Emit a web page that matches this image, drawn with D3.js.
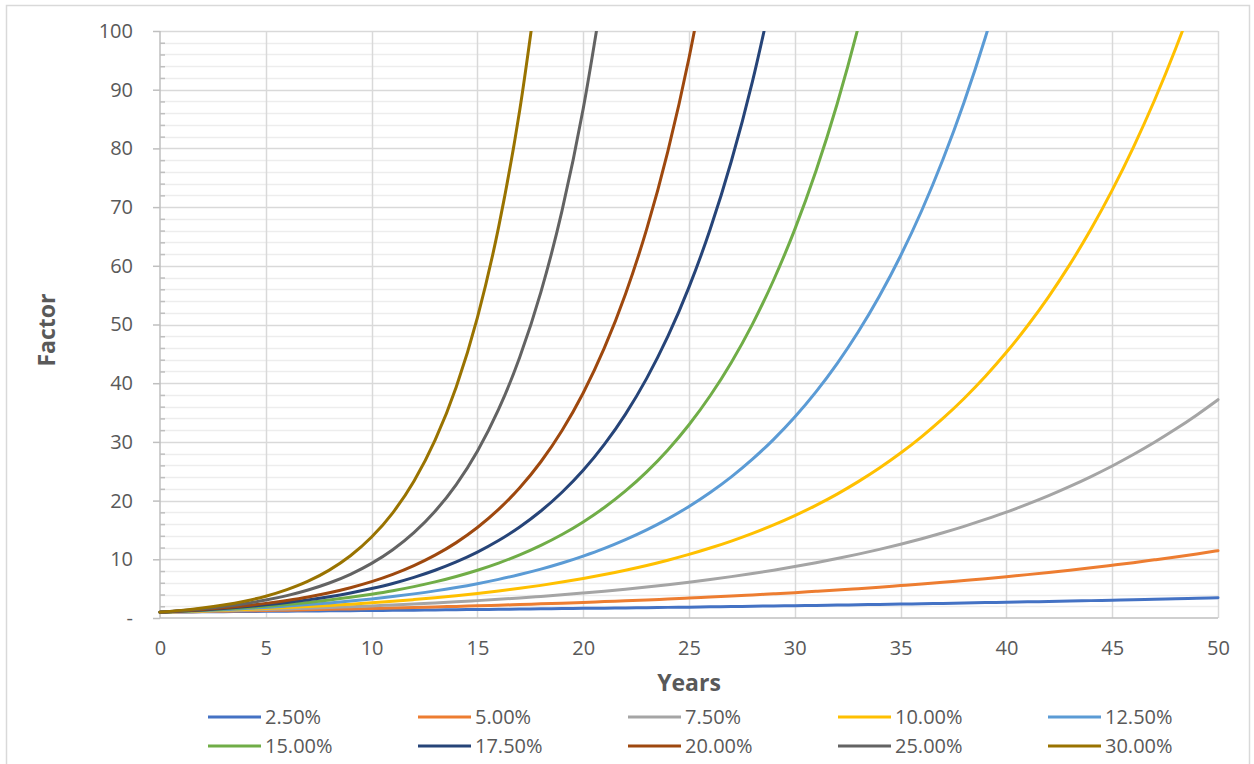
<!DOCTYPE html>
<html><head><meta charset="utf-8">
<script src="https://cdn.jsdelivr.net/npm/d3@7"></script>
<style>
body{margin:0;background:#fff;}
text{font-family:"Open Sans","Noto Sans",sans-serif;}
</style>
</head><body>
<svg id="chart" width="1254" height="764"></svg>
<script>
// ---- data ----
const years = [0,1,2,3,4,5,6,7,8,9,10,11,12,13,14,15,16,17,18,19,20,21,22,23,24,25,26,27,28,29,30,31,32,33,34,35,36,37,38,39,40,41,42,43,44,45,46,47,48,49,50];
const seriesNames = ["2.50%","5.00%","7.50%","10.00%","12.50%","15.00%","17.50%","20.00%","25.00%","30.00%"];
const colors = ["#4472C4","#ED7D31","#A5A5A5","#FFC000","#5B9BD5","#70AD47","#264478","#9E480E","#636363","#997300"];
const r025 = [1.00,1.03,1.05,1.08,1.10,1.13,1.16,1.19,1.22,1.25,1.28,1.31,1.34,1.38,1.41,1.45,1.48,1.52,1.56,1.60,1.64,1.68,1.72,1.76,1.81,1.85,1.90,1.95,2.00,2.05,2.10,2.15,2.20,2.26,2.32,2.37,2.43,2.49,2.56,2.62,2.69,2.75,2.82,2.89,2.96,3.04,3.11,3.19,3.27,3.35,3.44];
const r050 = [1.00,1.05,1.10,1.16,1.22,1.28,1.34,1.41,1.48,1.55,1.63,1.71,1.80,1.89,1.98,2.08,2.18,2.29,2.41,2.53,2.65,2.79,2.93,3.07,3.23,3.39,3.56,3.73,3.92,4.12,4.32,4.54,4.76,5.00,5.25,5.52,5.79,6.08,6.39,6.70,7.04,7.39,7.76,8.15,8.56,8.99,9.43,9.91,10.40,10.92,11.47];
const r075 = [1.00,1.08,1.16,1.24,1.34,1.44,1.54,1.66,1.78,1.92,2.06,2.22,2.38,2.56,2.75,2.96,3.18,3.42,3.68,3.95,4.25,4.57,4.91,5.28,5.67,6.10,6.56,7.05,7.58,8.14,8.76,9.41,10.12,10.88,11.69,12.57,13.51,14.52,15.61,16.79,18.04,19.40,20.85,22.42,24.10,25.90,27.85,29.94,32.18,34.60,37.19];
const r100 = [1.00,1.10,1.21,1.33,1.46,1.61,1.77,1.95,2.14,2.36,2.59,2.85,3.14,3.45,3.80,4.18,4.59,5.05,5.56,6.12,6.73,7.40,8.14,8.95,9.85,10.83,11.92,13.11,14.42,15.86,17.45,19.19,21.11,23.23,25.55,28.10,30.91,34.00,37.40,41.14,45.26,49.79,54.76,60.24,66.26,72.89,80.18,88.20,97.02,106.72,117.39];
const r125 = [1.00,1.13,1.27,1.42,1.60,1.80,2.03,2.28,2.57,2.89,3.25,3.65,4.11,4.62,5.20,5.85,6.58,7.41,8.33,9.37,10.55,11.86,13.35,15.01,16.89,19.00,21.38,24.05,27.06,30.44,34.24,38.52,43.34,48.76,54.85,61.71,69.42,78.10,87.86,98.84,111.20];
const r150 = [1.00,1.15,1.32,1.52,1.75,2.01,2.31,2.66,3.06,3.52,4.05,4.65,5.35,6.15,7.08,8.14,9.36,10.76,12.38,14.23,16.37,18.82,21.64,24.89,28.63,32.92,37.86,43.54,50.07,57.58,66.21,76.14,87.57,100.70,115.80];
const r175 = [1.00,1.18,1.38,1.62,1.91,2.24,2.63,3.09,3.63,4.27,5.02,5.89,6.93,8.14,9.56,11.23,13.20,15.51,18.23,21.42,25.16,29.57,34.74,40.82,47.96,56.36,66.22,77.81,91.42,107.42];
const r200 = [1.00,1.20,1.44,1.73,2.07,2.49,2.99,3.58,4.30,5.16,6.19,7.43,8.92,10.70,12.84,15.41,18.49,22.19,26.62,31.95,38.34,46.01,55.21,66.25,79.50,95.40,114.48];
const r250 = [1.00,1.25,1.56,1.95,2.44,3.05,3.81,4.77,5.96,7.45,9.31,11.64,14.55,18.19,22.74,28.42,35.53,44.41,55.51,69.39,86.74,108.42];
const r300 = [1.00,1.30,1.69,2.20,2.86,3.71,4.83,6.27,8.16,10.60,13.79,17.92,23.30,30.29,39.37,51.19,66.54,86.50,112.46];
const seriesValues = [r025,r050,r075,r100,r125,r150,r175,r200,r250,r300];
const yTicks = [0,10,20,30,40,50,60,70,80,90,100];
const yMinorTicks = [2,4,6,8,12,14,16,18,22,24,26,28,32,34,36,38,42,44,46,48,52,54,56,58,62,64,66,68,72,74,76,78,82,84,86,88,92,94,96,98];
const xTicks = [0,5,10,15,20,25,30,35,40,45,50];

// ---- layout ----
const svg = d3.select("#chart");
const L = 160, R = 1218, T = 31, B = 618;
const x = d3.scaleLinear().domain([0,50]).range([L,R]);
const y = d3.scaleLinear().domain([0,100]).range([B,T]);
const txt = "#595959";

svg.append("rect").attr("x",6.5).attr("y",5.5).attr("width",1243).attr("height",820)
  .attr("fill","#fff").attr("stroke","#d9d9d9").attr("stroke-width",1.5);

// grid
const g = svg.append("g");
g.selectAll(".minor").data(yMinorTicks).join("line")
  .attr("x1",L).attr("x2",R).attr("y1",d=>Math.round(y(d))+0.5).attr("y2",d=>Math.round(y(d))+0.5)
  .attr("stroke","#ededed").attr("stroke-width",1.5);
g.selectAll(".major").data(yTicks.slice(1)).join("line")
  .attr("x1",L).attr("x2",R).attr("y1",d=>Math.round(y(d))+0.5).attr("y2",d=>Math.round(y(d))+0.5)
  .attr("stroke","#d9d9d9").attr("stroke-width",1.5);
g.selectAll(".vert").data(xTicks.slice(1)).join("line")
  .attr("x1",d=>Math.round(x(d))+0.5).attr("x2",d=>Math.round(x(d))+0.5).attr("y1",T).attr("y2",B)
  .attr("stroke","#d9d9d9").attr("stroke-width",1.5);

// axes
const yAxis = svg.append("g").attr("transform",`translate(${L},0)`)
  .call(d3.axisLeft(y).tickValues(yTicks).tickSize(7).tickPadding(20).tickFormat(d=>d===0?"-":d));
yAxis.selectAll("line,path").attr("stroke","#bfbfbf").attr("stroke-width",1.5);
yAxis.select(".domain").attr("d",`M0,${T}V${B}`);
yAxis.selectAll("text").attr("fill",txt).style("font-size","20px").style("font-family","'Open Sans',sans-serif");
const yMinor = svg.append("g").attr("transform",`translate(${L},0)`)
  .call(d3.axisRight(y).tickValues(yMinorTicks).tickSize(5).tickFormat(""));
yMinor.select(".domain").remove();
yMinor.selectAll("line").attr("stroke","#bfbfbf").attr("stroke-width",1.5);

const xAxis = svg.append("g").attr("transform",`translate(0,${B})`)
  .call(d3.axisBottom(x).tickValues(xTicks).tickSize(0).tickPadding(23));
xAxis.selectAll("path").attr("stroke","#bfbfbf").attr("stroke-width",1.5);
xAxis.select(".domain").attr("d",`M${L},0H${R}`);
xAxis.selectAll("text").attr("fill",txt).style("font-size","20px").style("font-family","'Open Sans',sans-serif");

// titles
svg.append("text").attr("transform","translate(55,330) rotate(-90)").attr("text-anchor","middle")
  .attr("fill",txt).style("font-size","23px").style("font-weight","bold").text("Factor");
svg.append("text").attr("x",689).attr("y",691).attr("text-anchor","middle")
  .attr("fill",txt).style("font-size","23px").style("font-weight","bold").text("Years");

// lines
svg.append("clipPath").attr("id","clip").append("rect").attr("x",L-3).attr("y",T).attr("width",R-L+6).attr("height",B-T+3);
const line = d3.line().x((d,i)=>x(years[i])).y(d=>y(d)).curve(d3.curveMonotoneX);
svg.append("g").attr("clip-path","url(#clip)").selectAll("path").data(seriesValues).join("path")
  .attr("d",d=>line(d)).attr("fill","none").attr("stroke",(d,i)=>colors[i])
  .attr("stroke-width",3).attr("stroke-linecap","round").attr("stroke-linejoin","round");

// legend
const legX = [208,418,628,838,1048];
const legY = [717,746];
const leg = svg.append("g").selectAll("g").data(seriesNames).join("g")
  .attr("transform",(d,i)=>`translate(${legX[i%5]},${legY[Math.floor(i/5)]})`);
leg.append("line").attr("x1",0).attr("x2",53).attr("y1",0).attr("y2",0)
  .attr("stroke",(d,i)=>colors[i]).attr("stroke-width",3);
leg.append("text").attr("x",57).attr("y",7).attr("fill",txt).style("font-size","20px").text(d=>d);
</script>
</body></html>
